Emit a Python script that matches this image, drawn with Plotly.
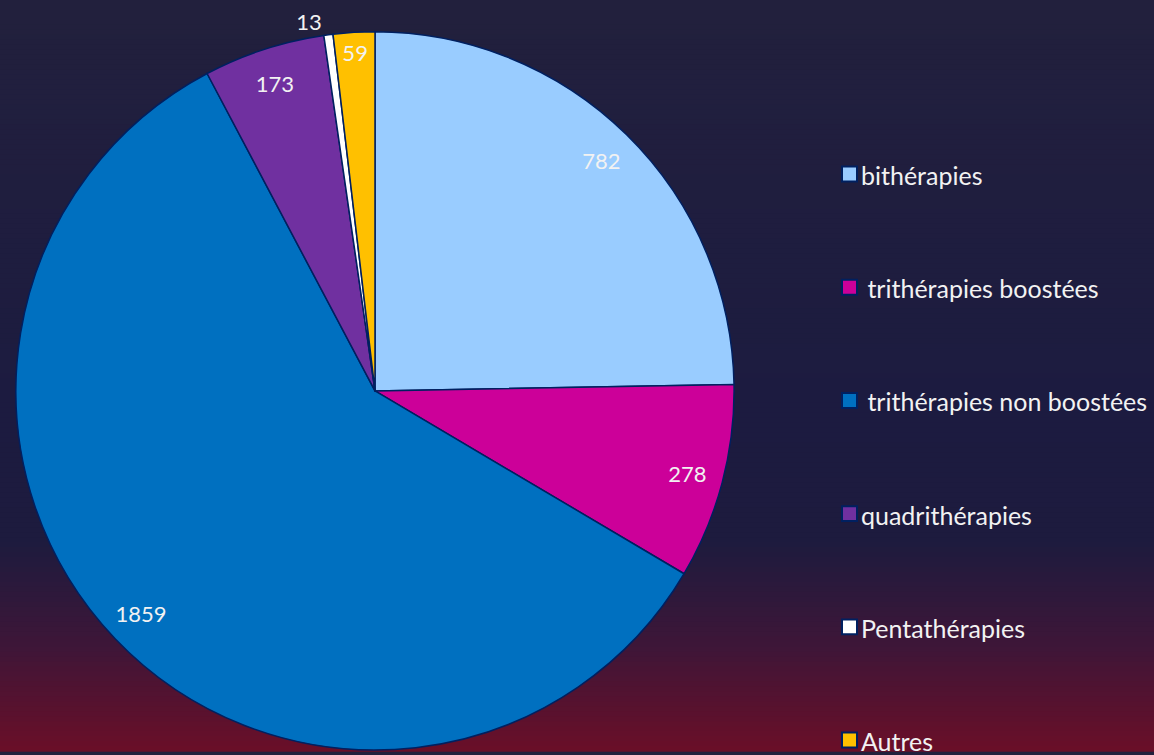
import plotly.graph_objects as go

categories = ["bithérapies", "\u00a0trithérapies boostées", "\u00a0trithérapies non boostées",
              "quadrithérapies", "Pentathérapies", "Autres"]
values = [782, 278, 1859, 173, 13, 59]
colors = ["#99CCFF", "#CC0099", "#0070C0", "#7030A0", "#FFFFFF", "#FFC000"]
label_pos = ["inside", "inside", "inside", "inside", "outside", "inside"]

W, H = 1154, 755
FONT = "Lato"
TXT = "#F2F2F2"
EDGE = "#002060"

# pie box in pixels
px0, px1, py0, py1 = 14, 736, 32, 754
dom = dict(x=[px0 / W, px1 / W], y=[1 - py1 / H, 1 - py0 / H])

fig = go.Figure()
fig.add_trace(go.Pie(
    labels=categories, values=values, sort=False, direction="clockwise", rotation=0,
    marker=dict(colors=colors, line=dict(color=EDGE, width=1.5)),
    textinfo="none", hoverinfo="label+value", showlegend=False, domain=dom,
))
# transparent ring trace used only to place value labels near the rim
fig.add_trace(go.Pie(
    labels=categories, values=values, sort=False, direction="clockwise", rotation=0,
    hole=0.8, marker=dict(colors=["rgba(0,0,0,0)"] * len(values), line=dict(width=0)),
    textinfo="value", textposition=label_pos, insidetextorientation="horizontal",
    textfont=dict(family=FONT, size=22, color=TXT),
    hoverinfo="skip", showlegend=False, domain=dom,
))

# background gradient
stops = [(0.0, (34, 32, 61)), (0.55, (28, 27, 64)), (0.72, (29, 27, 62)),
         (0.86, (62, 22, 56)), (1.0, (106, 15, 40))]

def col(t):
    for (t0, c0), (t1, c1) in zip(stops[:-1], stops[1:]):
        if t0 <= t <= t1:
            f = (t - t0) / (t1 - t0) if t1 > t0 else 0
            return "rgb(%d,%d,%d)" % tuple(round(a + (b - a) * f) for a, b in zip(c0, c1))
    return "rgb(%d,%d,%d)" % stops[-1][1]

shapes = []
N = 151
for i in range(N):
    y0 = i / N
    y1 = (i + 1) / N
    shapes.append(dict(type="rect", xref="paper", yref="paper", x0=0, x1=1,
                       y0=1 - y1 - 0.001, y1=1 - y0, fillcolor=col((y0 + y1) / 2),
                       line=dict(width=0), layer="below"))

# legend drawn manually
annotations = []
leg_x0, leg_size = 842, 15
leg_y0, leg_step = 175, 113.8
for i, (lab, c) in enumerate(zip(categories, colors)):
    cy = leg_y0 + i * leg_step
    shapes.append(dict(type="rect", xref="paper", yref="paper",
                       x0=leg_x0 / W, x1=(leg_x0 + leg_size) / W,
                       y0=1 - (cy + leg_size / 2) / H, y1=1 - (cy - leg_size / 2) / H,
                       fillcolor=c, line=dict(color=EDGE, width=2)))
    annotations.append(dict(text=lab, xref="paper", yref="paper", x=859 / W, y=1 - (cy + 1) / H,
                            xanchor="left", yanchor="middle", showarrow=False,
                            font=dict(family=FONT, size=25, color=TXT)))

fig.update_layout(
    width=W, height=H, margin=dict(l=0, r=0, t=0, b=0),
    paper_bgcolor="#22203D", plot_bgcolor="rgba(0,0,0,0)",
    shapes=shapes, annotations=annotations,
    uniformtext=dict(minsize=22, mode="show"),
    showlegend=False,
)
fig.write_html("out.html", config={"displayModeBar": False},
               post_script="document.body.style.margin='0';document.body.style.overflow='hidden';")
